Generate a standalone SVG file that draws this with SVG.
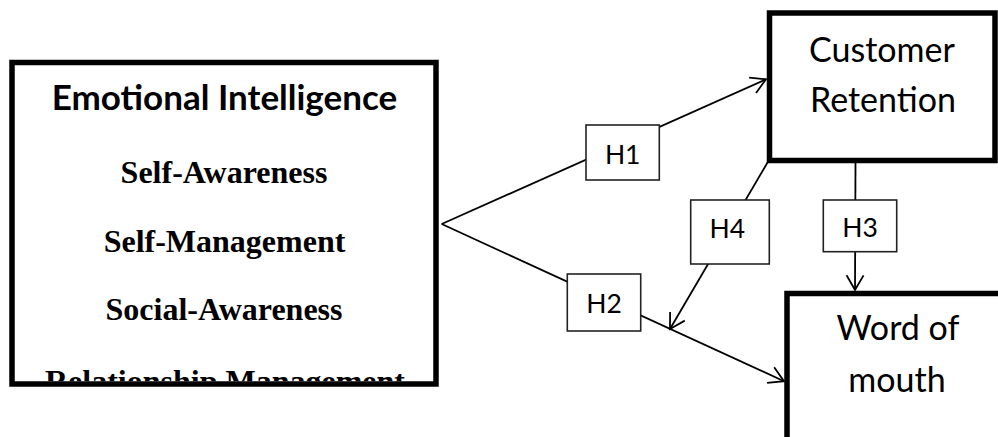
<svg xmlns="http://www.w3.org/2000/svg" width="998" height="437" viewBox="0 0 998 437">
<style>
.box{fill:#fff;stroke:#000;stroke-width:5.5}
.hbox{fill:#fff;stroke:#222;stroke-width:1.6}
.line{fill:none;stroke:#000;stroke-width:1.8}
.sans{font-family:Lato,"Open Sans","Liberation Sans",sans-serif;fill:#000}
.serif{font-family:"Liberation Serif","Times New Roman",serif;font-weight:bold;font-size:32px;fill:#000}
.big{font-size:34px}
.h{font-size:26.5px}
</style>
<defs>
<marker id="arr" markerUnits="userSpaceOnUse" viewBox="-17 -10 19 20" refX="0" refY="0" markerWidth="19" markerHeight="20" orient="auto">
<path d="M-14.7,-8.5 L0,0 L-14.7,8.5" fill="none" stroke="#000" stroke-width="1.8"/>
</marker>
<clipPath id="eiclip"><rect x="14.75" y="65.25" width="418.5" height="316"/></clipPath>
</defs>
<g id="connectors">
<line class="line" x1="441.7" y1="224" x2="766" y2="79.3" marker-end="url(#arr)"/>
<line class="line" x1="441.7" y1="224" x2="784" y2="381.2" marker-end="url(#arr)"/>
<line class="line" x1="855.5" y1="163" x2="855" y2="290" marker-end="url(#arr)"/>
<line class="line" x1="769" y1="160" x2="670" y2="329" marker-end="url(#arr)"/>
</g>
<g id="emotional-intelligence">
<rect class="box" x="12" y="62.5" width="424" height="321.5"/>
<g clip-path="url(#eiclip)">
<text class="sans" x="224.5" y="110" text-anchor="middle" font-weight="bold" font-size="35">Emotional Intelligence</text>
<text class="serif" x="224" y="183.3" text-anchor="middle">Self-Awareness</text>
<text class="serif" x="224.5" y="251.7" text-anchor="middle">Self-Management</text>
<text class="serif" x="224" y="320" text-anchor="middle">Social-Awareness</text>
<text class="serif" x="225" y="392" text-anchor="middle">Relationship Management</text>
</g>
</g>
<g id="customer-retention">
<rect class="box" x="769.5" y="13" width="225.5" height="147.5"/>
<text class="sans big" x="882" y="62" text-anchor="middle">Customer</text>
<text class="sans big" x="883" y="112" text-anchor="middle">Retention</text>
</g>
<g id="word-of-mouth">
<rect class="box" x="787" y="293.5" width="240" height="200"/>
<text class="sans big" x="898" y="340" text-anchor="middle">Word of</text>
<text class="sans big" x="897" y="391.7" text-anchor="middle">mouth</text>
</g>
<g id="h1">
<rect class="hbox" x="586" y="125" width="73.3" height="55"/>
<text class="sans h" x="622.7" y="164" text-anchor="middle">H1</text>
</g>
<g id="h2">
<rect class="hbox" x="567.3" y="274" width="73.4" height="57"/>
<text class="sans h" x="604" y="312.7" text-anchor="middle">H2</text>
</g>
<g id="h3">
<rect class="hbox" x="823.3" y="200" width="73.4" height="51.7"/>
<text class="sans h" x="860" y="237.3" text-anchor="middle">H3</text>
</g>
<g id="h4">
<rect class="hbox" x="690.7" y="200" width="78.6" height="64"/>
<text class="sans h" x="727.3" y="238.3" text-anchor="middle">H4</text>
</g>
</svg>
